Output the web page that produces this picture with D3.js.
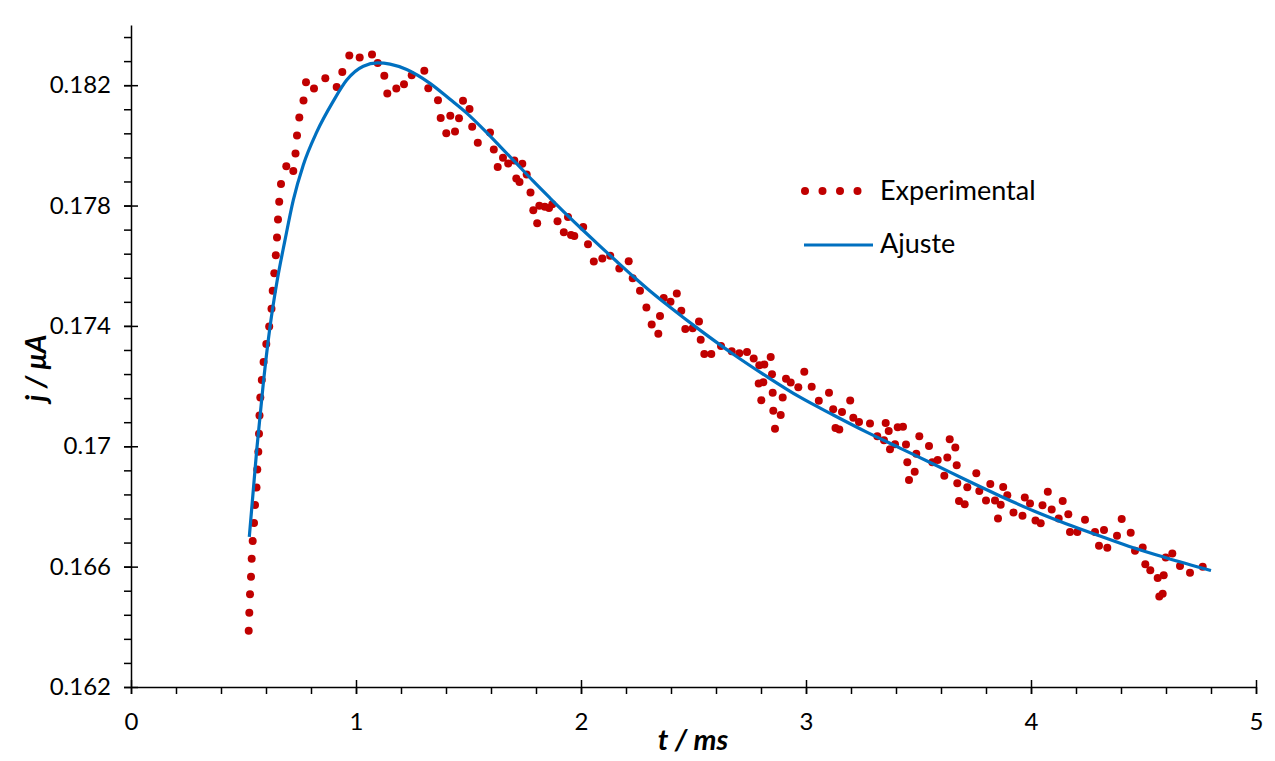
<!DOCTYPE html>
<html>
<head>
<meta charset="utf-8">
<script src="https://cdn.jsdelivr.net/npm/d3@7"></script>
<style>
  html, body { margin: 0; padding: 0; background: #ffffff; }
  svg { display: block; }
  text { font-family: Lato, "Open Sans", sans-serif; fill: #000; }
</style>
</head>
<body>
<svg id="chart" width="1275" height="761"></svg>
<script>
// ---------- DATA ----------
const tExp = [0.5231,0.5258,0.5289,0.5333,0.5364,0.5409,0.5467,0.5511,0.5578,0.5613,
0.5658,0.5689,0.5711,0.5747,0.5813,0.5893,0.6013,0.6142,0.6244,0.6298,
0.6369,0.6436,0.6489,0.6533,0.6587,0.6667,0.6902,0.7213,0.7311,0.7378,
0.7480,0.7667,0.7778,0.8133,0.8636,0.9142,0.9391,0.9702,1.0164,1.0711,
1.0964,1.1258,1.1391,1.1791,1.2133,1.2476,1.3036,1.3213,1.3644,1.3764,
1.4013,1.4191,1.4400,1.4578,1.4756,1.5044,1.5164,1.5413,1.5956,1.6124,
1.6298,1.6533,1.6764,1.7036,1.7124,1.7267,1.7391,1.7587,1.7756,1.7880,
1.8053,1.8147,1.8391,1.8578,1.8724,1.8956,1.9236,1.9422,1.9556,1.9702,
2.0098,2.0311,2.0569,2.0947,2.1298,2.1702,2.2120,2.2298,2.2622,2.2907,
2.3142,2.3436,2.3511,2.3676,2.3978,2.4258,2.4458,2.4636,2.4964,2.5244,
2.5320,2.5480,2.5791,2.6222,2.6698,2.7036,2.7378,2.7676,2.7898,2.7924,
2.8013,2.8102,2.8147,2.8431,2.8489,2.8520,2.8547,2.8622,2.8876,2.8964,
2.9111,2.9320,2.9658,2.9924,3.0253,3.0569,3.1022,3.1209,3.1311,3.1480,
3.1600,3.1964,3.2102,3.2356,3.2844,3.3169,3.3467,3.3542,3.3676,3.3733,
3.3956,3.4076,3.4311,3.4444,3.4502,3.4578,3.4831,3.4902,3.5036,3.5467,
3.5613,3.5853,3.6147,3.6280,3.6387,3.6636,3.6698,3.6724,3.6800,3.7053,
3.7169,3.7569,3.7702,3.8000,3.8191,3.8400,3.8533,3.8653,3.8764,3.8947,
3.9222,3.9622,3.9724,3.9956,4.0200,4.0431,4.0511,4.0747,4.0920,4.1231,
4.1409,4.1658,4.1733,4.2058,4.2400,4.2844,4.3022,4.3244,4.3391,4.3822,
4.4031,4.4431,4.4622,4.4964,4.5080,4.5302,4.5631,4.5702,4.5853,4.5898,
4.5987,4.6280,4.6622,4.7067,4.7631];

const jExp = [0.16387,0.16447,0.16508,0.16566,0.16626,0.16685,0.16745,0.16805,0.16863,0.16923,
0.16982,0.17042,0.17102,0.17162,0.17220,0.17280,0.17340,0.17398,0.17457,0.17517,
0.17575,0.17635,0.17694,0.17754,0.17813,0.17872,0.17931,0.17915,0.17973,0.18033,
0.18093,0.18149,0.18210,0.18189,0.18223,0.18194,0.18244,0.18299,0.18292,0.18302,
0.18274,0.18231,0.18172,0.18189,0.18203,0.18233,0.18248,0.18190,0.18150,0.18091,
0.18040,0.18098,0.18046,0.18090,0.18148,0.18121,0.18062,0.18009,0.18043,0.17986,
0.17928,0.17959,0.17940,0.17950,0.17890,0.17878,0.17939,0.17903,0.17843,0.17784,
0.17741,0.17799,0.17796,0.17792,0.17804,0.17748,0.17711,0.17762,0.17702,0.17699,
0.17729,0.17671,0.17614,0.17624,0.17633,0.17591,0.17615,0.17558,0.17517,0.17461,
0.17405,0.17374,0.17433,0.17493,0.17480,0.17508,0.17450,0.17390,0.17392,0.17415,
0.17354,0.17307,0.17307,0.17333,0.17316,0.17309,0.17313,0.17292,0.17209,0.17269,
0.17153,0.17213,0.17272,0.17297,0.17239,0.17178,0.17118,0.17058,0.17104,0.17162,
0.17224,0.17212,0.17196,0.17248,0.17198,0.17151,0.17178,0.17123,0.17061,0.17056,
0.17114,0.17152,0.17095,0.17081,0.17076,0.17033,0.17020,0.17077,0.17051,0.16990,
0.17007,0.17063,0.17065,0.17006,0.16947,0.16888,0.16915,0.16975,0.17033,0.17001,
0.16947,0.16954,0.16902,0.16963,0.17023,0.16996,0.16937,0.16877,0.16818,0.16807,
0.16864,0.16910,0.16851,0.16820,0.16875,0.16820,0.16760,0.16806,0.16865,0.16837,
0.16780,0.16769,0.16830,0.16810,0.16753,0.16744,0.16804,0.16849,0.16790,0.16760,
0.16818,0.16774,0.16715,0.16715,0.16756,0.16715,0.16669,0.16722,0.16663,0.16703,
0.16758,0.16713,0.16653,0.16664,0.16608,0.16588,0.16562,0.16501,0.16510,0.16571,
0.16630,0.16644,0.16602,0.16580,0.16600];

const tFit = [0.5258,0.5587,0.5880,0.6178,0.6476,0.6844,0.7213,0.7658,0.8253,0.8991,
0.9587,1.0324,1.0964,1.1511,1.2253,1.3289,1.4178,1.4920,1.5658,1.6400,
1.7142,1.7880,1.8622,1.9364,2.0102,2.0844,2.1587,2.2324,2.3067,2.3809,
2.4547,2.5289,2.6769,2.8253,2.9733,3.1213,3.2698,3.4178,3.5658,3.7142,
3.8622,4.0102,4.1587,4.3067,4.4547,4.6031,4.8000];

const jFit = [0.16699,0.16987,0.17209,0.17397,0.17542,0.17685,0.17818,0.17935,0.18044,0.18147,
0.18217,0.18263,0.18274,0.18270,0.18252,0.18206,0.18153,0.18107,0.18054,0.17997,
0.17939,0.17881,0.17825,0.17770,0.17717,0.17665,0.17614,0.17564,0.17516,0.17471,
0.17428,0.17386,0.17306,0.17232,0.17163,0.17104,0.17047,0.16994,0.16941,0.16887,
0.16835,0.16786,0.16742,0.16702,0.16663,0.16629,0.16587];

const xMajorTicks = [0, 1, 2, 3, 4, 5];
const yMajorTicks = [0.162, 0.166, 0.170, 0.174, 0.178, 0.182];
const yTickLabels = ["0.162", "0.166", "0.17", "0.174", "0.178", "0.182"];
const xTickLabels = ["0", "1", "2", "3", "4", "5"];
const seriesNames = ["Experimental", "Ajuste"];
const xTitle = "t / ms";
const yTitle = "j / μA";

// ---------- LAYOUT ----------
const svg = d3.select("#chart");
const X0 = 131, X1 = 1256, Y0 = 687, Y1 = 25;
const x = d3.scaleLinear().domain([0, 5]).range([X0, X1]);
const y = d3.scaleLinear().domain([0.162, 0.184]).range([Y0, Y1]);

const red = "#C00000";
const blue = "#0070C0";
const tickFont = "24px";
const legendFont = "27px";
const titleFont = "29px";

// minor ticks
const xMinor = d3.range(0, 26).map(i => i * 0.2);
const yMinor = d3.range(0, 28).map(i => 0.162 + i * 0.0008);

// Y axis
const gyMinor = svg.append("g").attr("transform", `translate(${X0},0)`)
  .call(d3.axisLeft(y).tickValues(yMinor).tickSize(7).tickFormat(""));
gyMinor.select(".domain").remove();
gyMinor.selectAll(".tick line").attr("stroke", "#000").attr("stroke-width", 1.5);

const gy = svg.append("g").attr("transform", `translate(${X0},0)`)
  .call(d3.axisLeft(y).tickValues(yMajorTicks).tickSize(7).tickSizeOuter(0)
    .tickFormat((d, i) => yTickLabels[i]).tickPadding(13));
gy.select(".domain").attr("stroke", "#000").attr("stroke-width", 1.5);
gy.selectAll(".tick line").attr("x1", 7).attr("x2", -7).attr("stroke", "#000").attr("stroke-width", 1.5);
gy.selectAll(".tick text").style("font-size", tickFont).style("font-family", "Lato, sans-serif");

// X axis
const gxMinor = svg.append("g").attr("transform", `translate(0,${Y0})`)
  .call(d3.axisBottom(x).tickValues(xMinor).tickSize(7).tickFormat(""));
gxMinor.select(".domain").remove();
gxMinor.selectAll(".tick line").attr("stroke", "#000").attr("stroke-width", 1.5);

const gx = svg.append("g").attr("transform", `translate(0,${Y0})`)
  .call(d3.axisBottom(x).tickValues(xMajorTicks).tickSize(7).tickSizeOuter(0)
    .tickFormat((d, i) => xTickLabels[i]).tickPadding(19));
gx.select(".domain").attr("stroke", "#000").attr("stroke-width", 1.5);
gx.selectAll(".tick line").attr("y1", -7).attr("y2", 7).attr("stroke", "#000").attr("stroke-width", 1.5);
gx.selectAll(".tick text").style("font-size", tickFont).style("font-family", "Lato, sans-serif");

// Axis titles
svg.append("text")
  .attr("x", 693).attr("y", 750)
  .attr("text-anchor", "middle")
  .style("font-size", titleFont).style("font-weight", "bold").style("font-style", "italic")
  .text(xTitle);

svg.append("text")
  .attr("transform", `translate(46,368) rotate(-90)`)
  .attr("text-anchor", "middle")
  .style("font-size", titleFont).style("font-weight", "bold").style("font-style", "italic")
  .text(yTitle);

// Experimental points
svg.append("g").selectAll("circle")
  .data(tExp.map((t, i) => [t, jExp[i]]))
  .join("circle")
  .attr("cx", d => x(d[0]))
  .attr("cy", d => y(d[1]))
  .attr("r", 4)
  .attr("fill", red);

// Fit line
const line = d3.line().x(d => x(d[0])).y(d => y(d[1])).curve(d3.curveMonotoneX);
svg.append("path")
  .datum(tFit.map((t, i) => [t, jFit[i]]))
  .attr("d", line)
  .attr("fill", "none")
  .attr("stroke", blue)
  .attr("stroke-width", 3.2);

// Legend
const lg = svg.append("g");
[805, 822.5, 840, 857.5].forEach(cx => {
  lg.append("circle").attr("cx", cx).attr("cy", 191).attr("r", 4).attr("fill", red);
});
lg.append("text").attr("x", 880).attr("y", 191).attr("dy", "0.35em")
  .style("font-size", legendFont).text(seriesNames[0]);
lg.append("line").attr("x1", 804).attr("x2", 873).attr("y1", 245).attr("y2", 245)
  .attr("stroke", blue).attr("stroke-width", 3.2);
lg.append("text").attr("x", 880).attr("y", 244).attr("dy", "0.35em")
  .style("font-size", legendFont).text(seriesNames[1]);
</script>
</body>
</html>
